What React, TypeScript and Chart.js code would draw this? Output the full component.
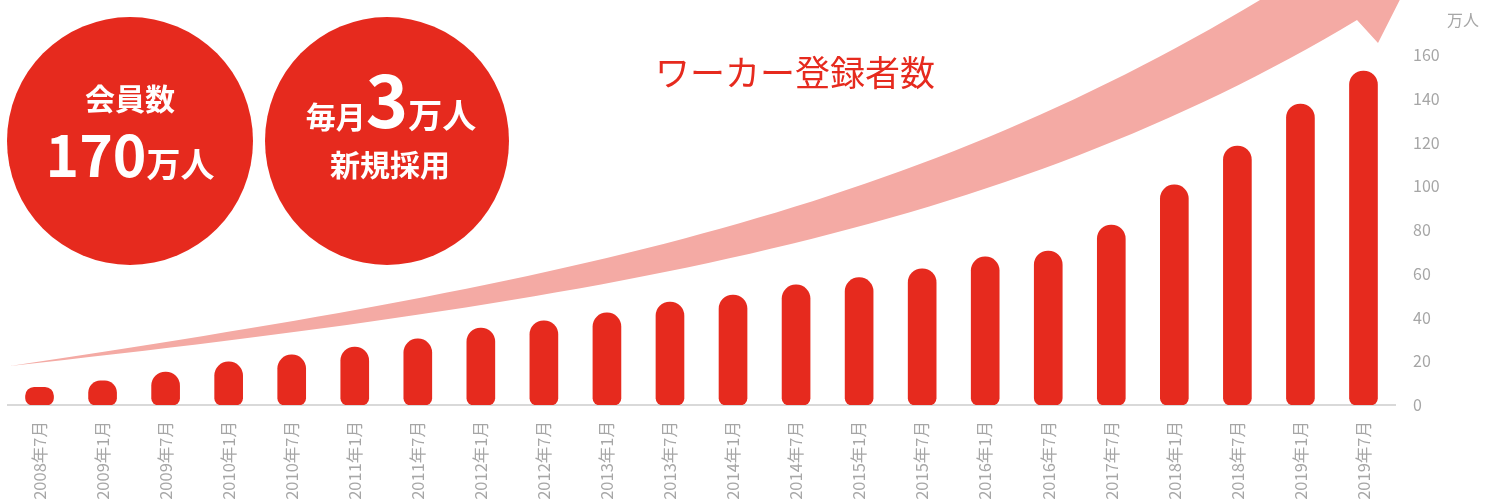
import React, { useEffect, useRef } from "react";
import { Chart, registerables } from "chart.js";

Chart.register(...registerables);

// ---- data ----
const categories = [
  "2008年7月", "2009年1月", "2009年7月", "2010年1月", "2010年7月", "2011年1月",
  "2011年7月", "2012年1月", "2012年7月", "2013年1月", "2013年7月", "2014年1月",
  "2014年7月", "2015年1月", "2015年7月", "2016年1月", "2016年7月", "2017年7月",
  "2018年1月", "2018年7月", "2019年1月", "2019年7月",
];
const workers = [
  8.1, 11.0, 15.1, 19.7, 22.9, 26.5, 30.2, 35.2, 38.5, 42.1, 47.1, 50.3,
  54.9, 58.2, 62.3, 67.7, 70.4, 82.3, 100.6, 118.4, 137.6, 152.7,
];
const yMin = 0;
const yMax = 160;
const yStep = 20;
const yUnit = "万人";
const chartTitle = "ワーカー登録者数";

const RED = "#E62A1E";
const PINK = "#F4AAA4";
const GRAY = "#A6A6A6";
const FONT = "'Noto Sans CJK JP', 'Noto Sans', sans-serif";

// decorative growth arrow behind the bars
const arrowPlugin = {
  id: "growthArrow",
  beforeDatasetsDraw(chart: any) {
    const ctx: CanvasRenderingContext2D = chart.ctx;
    ctx.save();
    ctx.fillStyle = PINK;
    ctx.beginPath();
    ctx.moveTo(10, 366);
    ctx.bezierCurveTo(550, 285, 900, 216, 1260, 0);
    ctx.lineTo(1330, -42);
    ctx.lineTo(1421, -42);
    ctx.lineTo(1378, 43);
    ctx.lineTo(1357, 20);
    ctx.bezierCurveTo(1000, 234, 600, 301, 10, 366);
    ctx.closePath();
    ctx.fill();
    ctx.restore();
  },
};

export default function App() {
  const canvasRef = useRef<HTMLCanvasElement | null>(null);

  useEffect(() => {
    if (!canvasRef.current) return;
    const chart = new Chart(canvasRef.current, {
      type: "bar",
      data: {
        labels: categories,
        datasets: [
          {
            data: workers,
            backgroundColor: RED,
            barThickness: 28,
            borderSkipped: false,
            borderRadius: { topLeft: 14, topRight: 14, bottomLeft: 7, bottomRight: 7 },
          },
        ],
      },
      options: {
        animation: false,
        responsive: true,
        maintainAspectRatio: false,
        layout: { padding: { left: 8, top: 55, right: 0, bottom: 0 } },
        plugins: {
          legend: { display: false },
          tooltip: { enabled: false },
          title: { display: false },
        },
        scales: {
          x: {
            z: 1,
            grid: { display: false, drawTicks: false },
            border: { display: true, color: "#D9D9D9", width: 2 },
            ticks: {
              autoSkip: false,
              maxRotation: 90,
              minRotation: 90,
              padding: 16,
              color: GRAY,
              font: { family: FONT, size: 16.5 },
            },
            afterFit: (scale: any) => {
              scale.height = 98;
            },
          },
          y: {
            position: "right",
            min: yMin,
            max: yMax,
            grid: { display: false, drawTicks: false },
            border: { display: false },
            ticks: {
              stepSize: yStep,
              padding: 18,
              color: GRAY,
              font: { family: FONT, size: 16 },
            },
            afterFit: (scale: any) => {
              scale.width = 102;
            },
          },
        },
      },
      plugins: [arrowPlugin],
    });
    return () => chart.destroy();
  }, []);

  const circle: React.CSSProperties = {
    position: "absolute",
    borderRadius: "50%",
    background: RED,
    color: "#fff",
    fontFamily: FONT,
    fontWeight: 700,
  };
  const line = (top: number, size: number): React.CSSProperties => ({
    position: "absolute",
    left: 0,
    right: 0,
    top,
    textAlign: "center",
    fontSize: size,
    lineHeight: 1,
    whiteSpace: "nowrap",
  });

  return (
    <div style={{ position: "fixed", left: 0, top: 0, width: 1497, height: 503, background: "#fff" }}>
      <canvas ref={canvasRef} style={{ display: "block", width: 1497, height: 503 }} />
      <div style={{ ...circle, left: 7, top: 17, width: 246, height: 248 }}>
        <div style={line(65, 30)}>会員数</div>
        <div style={line(107, 57)}>
          170<span style={{ fontSize: 34 }}>万人</span>
        </div>
      </div>
      <div style={{ ...circle, left: 265, top: 17, width: 244, height: 248 }}>
        <div style={{ ...line(44, 72), left: 8 }}>
          <span style={{ fontSize: 30 }}>毎月</span>3<span style={{ fontSize: 34 }}>万人</span>
        </div>
        <div style={{ ...line(131, 30), left: 6 }}>新規採用</div>
      </div>
      <div
        style={{
          position: "absolute",
          left: 595,
          width: 400,
          top: 53,
          textAlign: "center",
          color: RED,
          fontFamily: FONT,
          fontSize: 35,
          lineHeight: 1,
          whiteSpace: "nowrap",
        }}
      >
        {chartTitle}
      </div>
      <div
        style={{
          position: "absolute",
          left: 1447,
          top: 11,
          color: GRAY,
          fontFamily: FONT,
          fontSize: 16,
          lineHeight: 1,
          whiteSpace: "nowrap",
        }}
      >
        {yUnit}
      </div>
    </div>
  );
}
